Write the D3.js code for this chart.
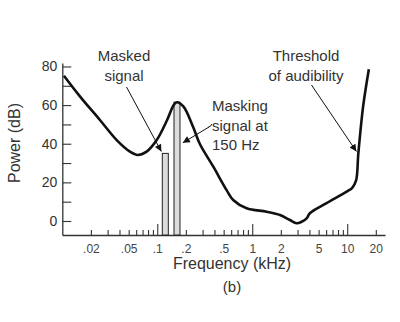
<!DOCTYPE html>
<html>
<head>
<meta charset="utf-8">
<script src="https://cdn.jsdelivr.net/npm/d3@7"></script>
<style>
  html, body { margin: 0; padding: 0; background: #fff; }
  svg { display: block; font-family: "Liberation Sans", Arial, Helvetica, sans-serif; }
</style>
</head>
<body>
<svg id="chart" width="400" height="322"></svg>
<script>
// Threshold of audibility (frequency in kHz, power in dB)
const thresholdFreq = [0.0104, 0.0154, 0.0249, 0.0374, 0.0516, 0.0614, 0.0773, 0.0986, 0.127, 0.149, 0.161, 0.189, 0.238, 0.28, 0.389, 0.537, 0.63, 0.873, 1.42, 1.96, 2.49, 2.93, 3.31, 3.74, 4.05, 6.07, 9.87, 11.3, 12.4, 13.1, 14.7, 16.9];
const thresholdDb   = [75.2, 64.4, 52.3, 41.9, 35.9, 34.2, 35.9, 41.9, 52.3, 60.1, 61.5, 59.2, 48.8, 40, 28.1, 16, 10.9, 6.6, 4.8, 3.1, 0.5, -1.2, -0.4, 1.4, 4, 9.2, 15.2, 17.2, 21, 35, 59.2, 78.6];

// Tones
const toneNames = ["Masked signal", "Masking signal"];
const toneFreq  = [0.113, 0.15];
const toneDb    = [35, 61.5];

// Axis ticks
const xTickValues = [0.02,0.03,0.04,0.05,0.06,0.07,0.08,0.09,0.1,0.2,0.3,0.4,0.5,0.6,0.7,0.8,0.9,1,2,3,4,5,6,7,8,9,10,20];
const xTickLabels = [".02", ".05", ".1", ".2", ".5", "1", "2", "5", "10", "20"];
const xMajorTicks = [0.1, 1, 10];
const yTickValues = [0, 10, 20, 30, 40, 50, 60, 70, 80];
const yTickLabels = ["0", "20", "40", "60", "80"];

const svg = d3.select("#chart");
const textColor = "#333";

const x = d3.scaleLog().domain([0.01, 25]).range([62.3, 385]);
const y = d3.scaleLinear().domain([-7.25, 81.8]).range([235, 63]);

const labelOf = v => {
  const s = d3.format("~g")(v);
  return s.startsWith("0.") ? s.slice(1) : s;
};

// X axis: ticks point inward, decades drawn taller
const xAxis = svg.append("g")
  .attr("transform", `translate(0,${y.range()[0]})`)
  .call(d3.axisBottom(x)
    .tickValues(xTickValues)
    .tickSizeOuter(0)
    .tickSizeInner(-5)
    .tickPadding(9)
    .tickFormat(d => xTickLabels.includes(labelOf(d)) ? labelOf(d) : ""));
xAxis.select(".domain").attr("stroke", "#333").attr("stroke-width", 1.3);
xAxis.selectAll(".tick line")
  .attr("stroke", "#333").attr("stroke-width", 1.1)
  .attr("y2", d => xMajorTicks.includes(d) ? -11 : -5);
xAxis.selectAll(".tick text")
  .attr("font-size", 12).attr("fill", "#444")
  .attr("font-family", "Liberation Sans, Arial, sans-serif");

// Y axis: ticks point inward
const yAxis = svg.append("g")
  .attr("transform", `translate(${x.range()[0]},0)`)
  .call(d3.axisLeft(y)
    .tickValues(yTickValues)
    .tickSizeOuter(0)
    .tickSizeInner(-9)
    .tickPadding(5)
    .tickFormat(d => yTickLabels.includes(String(d)) ? String(d) : ""));
yAxis.select(".domain").attr("stroke", "#333").attr("stroke-width", 1.3);
yAxis.selectAll(".tick line").attr("stroke", "#333").attr("stroke-width", 1.1);
yAxis.selectAll(".tick text")
  .attr("font-size", 14).attr("fill", textColor)
  .attr("font-family", "Liberation Sans, Arial, sans-serif");

// Tone bars, rising from the baseline
const barWidth = 6;
svg.append("g").selectAll("rect")
  .data(toneFreq.map((f, i) => ({ name: toneNames[i], f, db: toneDb[i] })))
  .join("rect")
  .attr("x", d => x(d.f))
  .attr("y", d => y(d.db))
  .attr("width", barWidth)
  .attr("height", d => y.range()[0] - y(d.db))
  .attr("fill", "#dcdcdc")
  .attr("stroke", "#222")
  .attr("stroke-width", 1);

// Threshold curve
const line = d3.line()
  .x(d => x(d[0]))
  .y(d => y(d[1]))
  .curve(d3.curveCatmullRom.alpha(0.5));
svg.append("path")
  .datum(thresholdFreq.map((f, i) => [f, thresholdDb[i]]))
  .attr("d", line)
  .attr("fill", "none")
  .attr("stroke", "#111")
  .attr("stroke-width", 2.6)
  .attr("stroke-linejoin", "round");

// Arrow marker
svg.append("defs").append("marker")
  .attr("id", "head")
  .attr("viewBox", "0 0 10 10")
  .attr("refX", 10).attr("refY", 5)
  .attr("markerWidth", 9).attr("markerHeight", 7)
  .attr("markerUnits", "userSpaceOnUse")
  .attr("orient", "auto")
  .append("path").attr("d", "M0,0 L10,5 L0,10 Z").attr("fill", "#111");

function arrow(x1, y1, x2, y2) {
  svg.append("line")
    .attr("x1", x1).attr("y1", y1).attr("x2", x2).attr("y2", y2)
    .attr("stroke", "#111").attr("stroke-width", 1)
    .attr("marker-end", "url(#head)");
}

function label(lines, px, py, anchor) {
  const t = svg.append("text")
    .attr("font-size", 15).attr("fill", textColor)
    .attr("text-anchor", anchor);
  lines.forEach((s, i) => t.append("tspan").attr("x", px).attr("y", py + i * 19.5).text(s));
}

// Annotations
label(["Masked", "signal"], 124, 61, "middle");
arrow(126.5, 87, x(toneFreq[0]) - 1, y(toneDb[0] + 1));

label(["Masking", "signal at", "150 Hz"], 212, 111, "start");
svg.append("path")
  .attr("d", "M212,124 q-1.5,3 -3.5,3")
  .attr("fill", "none").attr("stroke", "#111").attr("stroke-width", 1);
arrow(209, 127, x(0.186), y(40.5));

label(["Threshold", "of audibility"], 306, 61, "middle");
arrow(311.5, 85, x(12.5), y(36));

// Axis titles
svg.append("text")
  .attr("transform", "translate(20,143) rotate(-90)")
  .attr("text-anchor", "middle")
  .attr("font-size", 16).attr("fill", textColor)
  .text("Power (dB)");

svg.append("text")
  .attr("x", 232).attr("y", 269)
  .attr("text-anchor", "middle")
  .attr("font-size", 16).attr("fill", textColor)
  .text("Frequency (kHz)");

svg.append("text")
  .attr("x", 232).attr("y", 292)
  .attr("text-anchor", "middle")
  .attr("font-size", 15).attr("fill", textColor)
  .text("(b)");
</script>
</body>
</html>
